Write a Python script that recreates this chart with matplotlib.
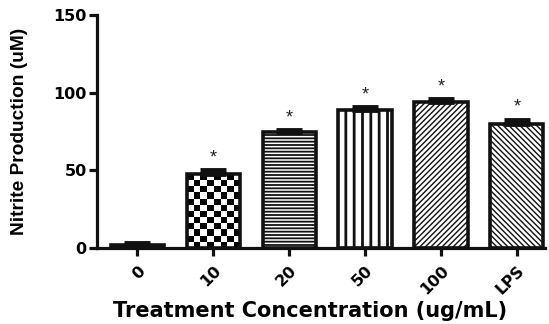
import numpy as np
import matplotlib
matplotlib.use("Agg")
import matplotlib.pyplot as plt

# data
categories = ["0", "10", "20", "50", "100", "LPS"]
nitrite = [2.0, 47.5, 74.5, 89.0, 94.0, 80.0]
sem = [1.0, 2.5, 1.5, 1.5, 2.0, 2.5]
significant = [False, True, True, True, True, True]

hatches = ["....", None, "-----", "||", "//////", "\\\\\\\\\\\\"]
hatch_lw = [1.0, 1.0, 1.3, 2.0, 1.0, 1.0]

plt.rcParams["font.family"] = ["Liberation Sans", "DejaVu Sans"]
plt.rcParams["font.weight"] = "bold"

fig = plt.figure(figsize=(5.49, 3.24), dpi=100)
ax = fig.add_axes([0.1767, 0.2346, 0.816, 0.719])

x = np.arange(len(categories))
width = 0.7
for i in range(len(categories)):
    plt.rcParams["hatch.linewidth"] = hatch_lw[i]
    face = "none" if hatches[i] is None else "white"
    b = ax.bar(x[i], nitrite[i], width=width, color=face, edgecolor="#111111",
               linewidth=2.6, hatch=hatches[i], zorder=2)
    p = b[0]
    if hasattr(p, "set_hatch_linewidth"):
        p.set_hatch_linewidth(hatch_lw[i])
    if hatches[i] is None:
        # checkerboard fill, clipped to the bar
        ncol, nrow = 8, int(round(nitrite[i] / 3.9))
        board = (np.add.outer(np.arange(nrow), np.arange(ncol)) % 2).astype(float)
        im = ax.imshow(board, cmap="gray", vmin=0, vmax=1, interpolation="nearest",
                       aspect="auto", zorder=1.9,
                       extent=(x[i] - width / 2, x[i] + width / 2, 0, nitrite[i]))
        im.set_clip_path(p)

ax.errorbar(x, nitrite, yerr=[np.zeros(len(sem)), sem], fmt="none",
            ecolor="#111111", elinewidth=2.5, capsize=9.5, capthick=3.5, zorder=3)

for i in range(len(categories)):
    if significant[i]:
        ax.text(x[i], nitrite[i] + sem[i] + 2.5, "*", ha="center", va="bottom",
                fontsize=13, fontweight="normal", color="#222222")

ax.set_ylim(0, 150)
ax.set_xlim(-0.53, 5.37)
ax.set_yticks([0, 50, 100, 150])
ax.set_xticks(x)
ax.set_xticklabels(categories, rotation=45, ha="right", rotation_mode="anchor",
                   family=["DejaVu Sans"], fontsize=11.5)
for lab in ax.get_yticklabels():
    lab.set_family(["DejaVu Sans"])
    lab.set_fontsize(11.5)

for s in ["top", "right"]:
    ax.spines[s].set_visible(False)
for s in ["left", "bottom"]:
    ax.spines[s].set_linewidth(2.3)
    ax.spines[s].set_color("#111111")

ax.tick_params(axis="both", direction="out", width=2.3, length=6, color="#111111")
ax.tick_params(axis="y", pad=1.5)
ax.tick_params(axis="x", pad=5)

ax.set_ylabel("Nitrite Production (uM)", fontsize=13.8, fontweight="bold",
              va="center")
ax.yaxis.set_label_coords(-0.172, 0.5)
ax.set_xlabel("Treatment Concentration (ug/mL)", fontsize=15,
              fontweight="bold", family=["DejaVu Sans"], va="center")
ax.xaxis.set_label_coords(0.475, -0.27)

fig.savefig("out.png", dpi=100)
